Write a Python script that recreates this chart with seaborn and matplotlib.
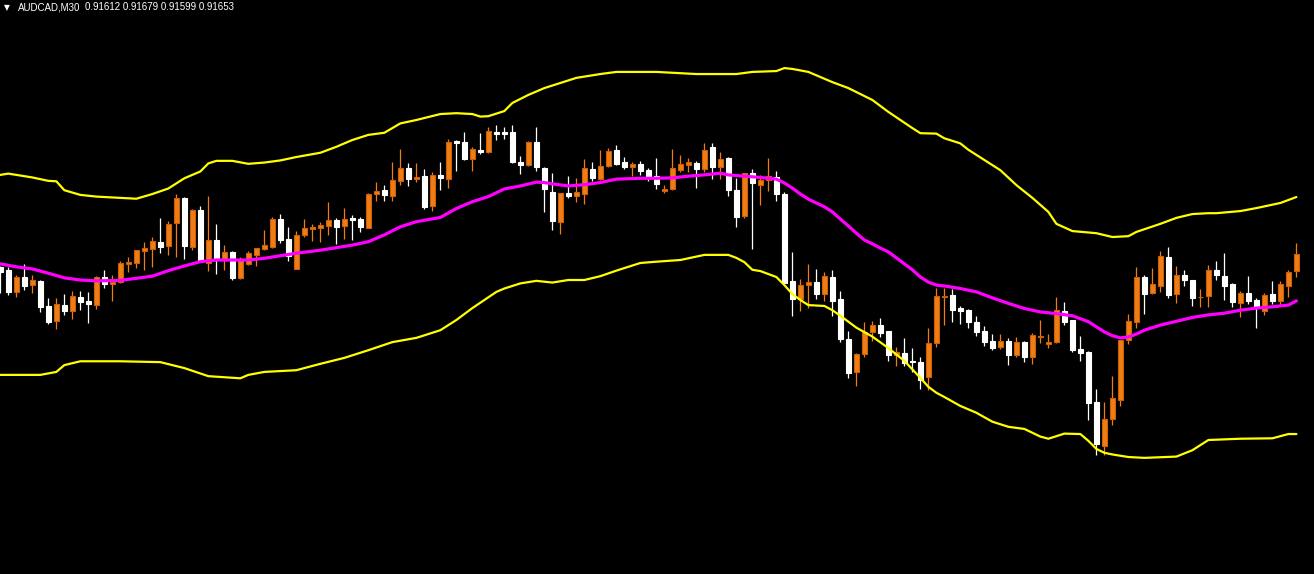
import numpy as np
import pandas as pd
import seaborn as sns
import matplotlib
matplotlib.use("Agg")
import matplotlib.pyplot as plt

symbol = "AUDCAD,M30"

# M30 bars, oldest first
opens = [
    0.91623, 0.91615, 0.91563, 0.91598, 0.91580, 0.91590, 0.91531, 0.91496, 0.91533, 0.91520,
    0.91552, 0.91543, 0.91534, 0.91598, 0.91582, 0.91588, 0.91630, 0.91633, 0.91661, 0.91664,
    0.91681, 0.91673, 0.91727, 0.91784, 0.91670, 0.91756, 0.91631, 0.91686, 0.91639, 0.91658,
    0.91597, 0.91630, 0.91651, 0.91665, 0.91670, 0.91735, 0.91688, 0.91619, 0.91698, 0.91713,
    0.91714, 0.91719, 0.91733, 0.91719, 0.91738, 0.91735, 0.91715, 0.91793, 0.91803, 0.91790,
    0.91825, 0.91855, 0.91829, 0.91836, 0.91766, 0.91839, 0.91829, 0.91919, 0.91916, 0.91876,
    0.91898, 0.91893, 0.91940, 0.91940, 0.91940, 0.91869, 0.91862, 0.91916, 0.91855, 0.91799,
    0.91728, 0.91796, 0.91790, 0.91795, 0.91853, 0.91830, 0.91860, 0.91898, 0.91869, 0.91857,
    0.91865, 0.91850, 0.91836, 0.91801, 0.91806, 0.91850, 0.91862, 0.91867, 0.91853, 0.91905,
    0.91858, 0.91879, 0.91803, 0.91743, 0.91843, 0.91816, 0.91826, 0.91833, 0.91794, 0.91590,
    0.91548, 0.91580, 0.91587, 0.91560, 0.91599, 0.91547, 0.91453, 0.91376, 0.91419, 0.91470,
    0.91486, 0.91472, 0.91416, 0.91421, 0.91402, 0.91399, 0.91365, 0.91443, 0.91552, 0.91557,
    0.91526, 0.91521, 0.91493, 0.91472, 0.91449, 0.91435, 0.91449, 0.91416, 0.91446, 0.91411,
    0.91458, 0.91442, 0.91446, 0.91519, 0.91498, 0.91430, 0.91423, 0.91305, 0.91202, 0.91266,
    0.91310, 0.91450, 0.91494, 0.91599, 0.91561, 0.91579, 0.91646, 0.91560, 0.91604, 0.91592,
    0.91551, 0.91555, 0.91616, 0.91601, 0.91583, 0.91538, 0.91561, 0.91545, 0.91519, 0.91559,
    0.91543, 0.91579, 0.91612,
]
highs = [
    0.91624, 0.91623, 0.91604, 0.91630, 0.91604, 0.91592, 0.91549, 0.91549, 0.91559, 0.91567,
    0.91566, 0.91563, 0.91602, 0.91616, 0.91604, 0.91637, 0.91645, 0.91663, 0.91681, 0.91692,
    0.91738, 0.91731, 0.91793, 0.91787, 0.91759, 0.91766, 0.91789, 0.91724, 0.91674, 0.91659,
    0.91646, 0.91660, 0.91668, 0.91710, 0.91740, 0.91747, 0.91717, 0.91707, 0.91735, 0.91724,
    0.91728, 0.91775, 0.91738, 0.91761, 0.91745, 0.91740, 0.91796, 0.91822, 0.91815, 0.91870,
    0.91900, 0.91867, 0.91867, 0.91853, 0.91846, 0.91870, 0.91923, 0.91921, 0.91940, 0.91905,
    0.91937, 0.91952, 0.91956, 0.91952, 0.91956, 0.91883, 0.91919, 0.91952, 0.91858, 0.91843,
    0.91797, 0.91836, 0.91832, 0.91876, 0.91869, 0.91898, 0.91903, 0.91909, 0.91881, 0.91870,
    0.91872, 0.91855, 0.91879, 0.91815, 0.91900, 0.91886, 0.91879, 0.91872, 0.91914, 0.91914,
    0.91893, 0.91881, 0.91832, 0.91844, 0.91853, 0.91839, 0.91879, 0.91848, 0.91799, 0.91658,
    0.91594, 0.91630, 0.91618, 0.91611, 0.91616, 0.91566, 0.91472, 0.91421, 0.91493, 0.91496,
    0.91503, 0.91473, 0.91435, 0.91456, 0.91432, 0.91411, 0.91479, 0.91573, 0.91573, 0.91571,
    0.91531, 0.91524, 0.91507, 0.91484, 0.91465, 0.91465, 0.91456, 0.91458, 0.91449, 0.91467,
    0.91498, 0.91465, 0.91552, 0.91540, 0.91498, 0.91460, 0.91425, 0.91336, 0.91305, 0.91366,
    0.91452, 0.91512, 0.91623, 0.91604, 0.91620, 0.91660, 0.91670, 0.91625, 0.91616, 0.91593,
    0.91571, 0.91627, 0.91637, 0.91655, 0.91585, 0.91566, 0.91601, 0.91550, 0.91561, 0.91590,
    0.91590, 0.91616, 0.91679,
]
lows = [
    0.91561, 0.91557, 0.91553, 0.91568, 0.91562, 0.91517, 0.91488, 0.91478, 0.91510, 0.91500,
    0.91521, 0.91492, 0.91525, 0.91574, 0.91543, 0.91586, 0.91610, 0.91621, 0.91615, 0.91623,
    0.91656, 0.91651, 0.91647, 0.91641, 0.91662, 0.91637, 0.91613, 0.91606, 0.91615, 0.91592,
    0.91594, 0.91628, 0.91625, 0.91662, 0.91667, 0.91680, 0.91637, 0.91618, 0.91693, 0.91684,
    0.91681, 0.91698, 0.91677, 0.91688, 0.91686, 0.91705, 0.91714, 0.91778, 0.91778, 0.91778,
    0.91816, 0.91813, 0.91822, 0.91759, 0.91754, 0.91803, 0.91808, 0.91848, 0.91874, 0.91848,
    0.91888, 0.91891, 0.91921, 0.91923, 0.91868, 0.91842, 0.91860, 0.91848, 0.91752, 0.91709,
    0.91700, 0.91785, 0.91776, 0.91771, 0.91825, 0.91828, 0.91858, 0.91862, 0.91853, 0.91836,
    0.91839, 0.91825, 0.91806, 0.91796, 0.91803, 0.91846, 0.91846, 0.91808, 0.91846, 0.91829,
    0.91829, 0.91789, 0.91717, 0.91738, 0.91665, 0.91768, 0.91802, 0.91778, 0.91584, 0.91508,
    0.91520, 0.91527, 0.91547, 0.91543, 0.91508, 0.91447, 0.91362, 0.91344, 0.91412, 0.91449,
    0.91458, 0.91402, 0.91391, 0.91391, 0.91376, 0.91337, 0.91333, 0.91434, 0.91486, 0.91493,
    0.91489, 0.91479, 0.91460, 0.91437, 0.91427, 0.91430, 0.91392, 0.91411, 0.91399, 0.91395,
    0.91444, 0.91432, 0.91444, 0.91486, 0.91423, 0.91402, 0.91263, 0.91181, 0.91181, 0.91252,
    0.91297, 0.91442, 0.91480, 0.91513, 0.91560, 0.91564, 0.91550, 0.91539, 0.91578, 0.91531,
    0.91529, 0.91529, 0.91592, 0.91545, 0.91529, 0.91505, 0.91536, 0.91479, 0.91510, 0.91536,
    0.91533, 0.91553, 0.91599,
]
closes = [
    0.91611, 0.91564, 0.91598, 0.91579, 0.91592, 0.91529, 0.91494, 0.91536, 0.91520, 0.91554,
    0.91541, 0.91536, 0.91599, 0.91583, 0.91587, 0.91631, 0.91635, 0.91662, 0.91667, 0.91684,
    0.91670, 0.91723, 0.91784, 0.91672, 0.91756, 0.91639, 0.91686, 0.91639, 0.91658, 0.91597,
    0.91639, 0.91655, 0.91667, 0.91674, 0.91735, 0.91686, 0.91648, 0.91698, 0.91714, 0.91717,
    0.91721, 0.91733, 0.91717, 0.91735, 0.91733, 0.91717, 0.91794, 0.91801, 0.91792, 0.91827,
    0.91855, 0.91829, 0.91834, 0.91764, 0.91839, 0.91832, 0.91916, 0.91914, 0.91876, 0.91900,
    0.91892, 0.91942, 0.91935, 0.91935, 0.91869, 0.91862, 0.91916, 0.91858, 0.91806, 0.91731,
    0.91796, 0.91790, 0.91799, 0.91855, 0.91832, 0.91860, 0.91895, 0.91865, 0.91858, 0.91865,
    0.91848, 0.91835, 0.91818, 0.91806, 0.91855, 0.91865, 0.91869, 0.91853, 0.91898, 0.91858,
    0.91876, 0.91803, 0.91740, 0.91843, 0.91821, 0.91827, 0.91836, 0.91794, 0.91586, 0.91548,
    0.91580, 0.91587, 0.91559, 0.91601, 0.91543, 0.91454, 0.91374, 0.91418, 0.91470, 0.91486,
    0.91468, 0.91416, 0.91423, 0.91398, 0.91399, 0.91357, 0.91443, 0.91554, 0.91554, 0.91521,
    0.91519, 0.91493, 0.91470, 0.91446, 0.91432, 0.91449, 0.91416, 0.91446, 0.91411, 0.91463,
    0.91460, 0.91446, 0.91521, 0.91493, 0.91427, 0.91420, 0.91303, 0.91207, 0.91265, 0.91315,
    0.91451, 0.91496, 0.91599, 0.91559, 0.91583, 0.91648, 0.91557, 0.91604, 0.91592, 0.91550,
    0.91553, 0.91616, 0.91604, 0.91578, 0.91540, 0.91561, 0.91543, 0.91529, 0.91557, 0.91543,
    0.91583, 0.91611, 0.91653,
]

# Bollinger bands, sampled at bar numbers
mid_bar = [0, 2, 4, 6, 8, 10, 12, 15, 17, 19, 21, 23, 25, 27, 31, 33, 35, 37, 40, 44,
           46, 48, 50, 52, 55, 57, 59, 61, 63, 65, 67, 68, 69, 71, 73, 75, 77, 80, 82, 84,
           86, 88, 90, 91, 93, 95, 97, 98, 99, 100, 101, 102, 103, 104, 105, 106, 107, 108, 109, 110,
           111, 112, 113, 114, 115, 116, 117, 118, 120, 122, 124, 126, 128, 130, 132, 134, 136, 137, 138, 139,
           140, 141, 142, 143, 145, 147, 149, 151, 153, 155, 157, 159, 161, 162]
mid_band = [0.91630, 0.91623, 0.91618, 0.91608, 0.91597, 0.91592, 0.91590, 0.91591, 0.91596, 0.91601,
            0.91614, 0.91625, 0.91635, 0.91639, 0.91639, 0.91643, 0.91649, 0.91655, 0.91662, 0.91674,
            0.91682, 0.91698, 0.91717, 0.91729, 0.91739, 0.91760, 0.91776, 0.91788, 0.91806, 0.91813,
            0.91822, 0.91821, 0.91818, 0.91813, 0.91816, 0.91821, 0.91829, 0.91831, 0.91831, 0.91832,
            0.91836, 0.91839, 0.91843, 0.91839, 0.91836, 0.91833, 0.91829, 0.91820, 0.91808, 0.91794,
            0.91782, 0.91773, 0.91764, 0.91752, 0.91735, 0.91719, 0.91702, 0.91686, 0.91677, 0.91667,
            0.91658, 0.91644, 0.91630, 0.91616, 0.91599, 0.91587, 0.91580, 0.91578, 0.91572, 0.91564,
            0.91550, 0.91537, 0.91525, 0.91517, 0.91513, 0.91508, 0.91494, 0.91482, 0.91470, 0.91461,
            0.91456, 0.91458, 0.91465, 0.91474, 0.91486, 0.91495, 0.91504, 0.91510, 0.91514, 0.91521,
            0.91526, 0.91529, 0.91533, 0.91543]

up_bar = [0, 1, 2, 4, 6, 7, 8, 10, 12, 15, 17, 19, 21, 23, 25, 26, 27, 29, 31, 33,
          35, 37, 40, 42, 44, 46, 48, 50, 52, 55, 57, 59, 60, 61, 63, 64, 66, 68, 70, 72,
          75, 77, 82, 87, 92, 94, 97, 98, 99, 101, 104, 106, 109, 111, 114, 115, 117, 118, 120, 121,
          122, 125, 127, 129, 131, 132, 134, 137, 139, 141, 142, 145, 147, 149, 151, 152, 155, 157, 160, 162]
up_band = [0.91839, 0.91842, 0.91839, 0.91833, 0.91825, 0.91824, 0.91803, 0.91792, 0.91788, 0.91785,
           0.91783, 0.91794, 0.91807, 0.91831, 0.91847, 0.91866, 0.91872, 0.91872, 0.91865, 0.91868,
           0.91873, 0.91881, 0.91891, 0.91905, 0.91921, 0.91933, 0.91938, 0.91960, 0.91968, 0.91982,
           0.91984, 0.91982, 0.91976, 0.91977, 0.91989, 0.92008, 0.92027, 0.92043, 0.92055, 0.92067,
           0.92076, 0.92081, 0.92081, 0.92076, 0.92076, 0.92081, 0.92083, 0.92090, 0.92088, 0.92081,
           0.92057, 0.92043, 0.92015, 0.91987, 0.91949, 0.91937, 0.91936, 0.91925, 0.91913, 0.91898,
           0.91886, 0.91850, 0.91815, 0.91785, 0.91752, 0.91724, 0.91707, 0.91702, 0.91693, 0.91695,
           0.91705, 0.91724, 0.91738, 0.91747, 0.91749, 0.91749, 0.91754, 0.91761, 0.91773, 0.91787]

lo_bar = [0, 5, 7, 8, 10, 15, 20, 23, 26, 30, 31, 33, 37, 40, 43, 46, 49, 52, 55, 57,
          59, 62, 63, 65, 67, 69, 71, 73, 75, 77, 80, 82, 85, 88, 91, 92, 93, 94, 95, 96,
          97, 98, 99, 100, 101, 103, 104, 105, 107, 109, 111, 113, 115, 116, 117, 118, 120, 122, 124, 126,
          128, 130, 131, 133, 135, 136, 137, 138, 139, 141, 143, 147, 149, 151, 155, 159, 161, 162]
lo_band = [0.91369, 0.91369, 0.91376, 0.91392, 0.91401, 0.91401, 0.91399, 0.91385, 0.91366, 0.91361,
           0.91369, 0.91376, 0.91380, 0.91395, 0.91409, 0.91427, 0.91446, 0.91456, 0.91474, 0.91498,
           0.91526, 0.91564, 0.91572, 0.91584, 0.91590, 0.91586, 0.91592, 0.91592, 0.91601, 0.91614,
           0.91632, 0.91635, 0.91639, 0.91651, 0.91651, 0.91644, 0.91634, 0.91616, 0.91613, 0.91606,
           0.91599, 0.91580, 0.91559, 0.91545, 0.91533, 0.91531, 0.91521, 0.91508, 0.91480, 0.91459,
           0.91432, 0.91402, 0.91362, 0.91341, 0.91327, 0.91317, 0.91296, 0.91280, 0.91259, 0.91247,
           0.91242, 0.91224, 0.91219, 0.91231, 0.91230, 0.91214, 0.91195, 0.91186, 0.91182, 0.91176,
           0.91174, 0.91177, 0.91192, 0.91216, 0.91219, 0.91220, 0.91230, 0.91230]

BULL = "#F07C14"
BULL_EDGE = "#C9600A"
BEAR = "#FFFFFF"

sns.set_style("dark", {"axes.facecolor": "black", "figure.facecolor": "black"})

bars = pd.DataFrame({"open": opens, "high": highs, "low": lows, "close": closes})
bars["n"] = np.arange(len(bars))
up = bars["close"] >= bars["open"]

fig = plt.figure(figsize=(13.14, 5.74), dpi=100)
ax = fig.add_axes([0, 0, 1, 1])
ax.set_facecolor("black")

# wicks then bodies
wick_col = np.where(up, BULL, BEAR)
ax.vlines(bars["n"], bars["low"], bars["high"], colors=wick_col, lw=0.9, zorder=2)

body_lo = bars[["open", "close"]].min(axis=1)
body_h = (bars["close"] - bars["open"]).abs().clip(lower=0.000012)
ax.bar(bars["n"], body_h, bottom=body_lo, width=0.56,
       color=np.where(up, BULL, BEAR), edgecolor=np.where(up, BULL_EDGE, BEAR),
       linewidth=0.8, zorder=3)

# bands on top of the candles
sns.lineplot(x=up_bar, y=up_band, color="#FFFF00", lw=1.6, ax=ax, zorder=4)
sns.lineplot(x=lo_bar, y=lo_band, color="#FFFF00", lw=1.6, ax=ax, zorder=4)
sns.lineplot(x=mid_bar, y=mid_band, color="#FF00FF", lw=2.3, ax=ax, zorder=5)

ax.set_xlim(-0.04, 164.2)
ax.set_ylim(0.909011, 0.922500)
ax.set_xticks([])
ax.set_yticks([])
ax.set_xlabel("")
ax.set_ylabel("")
ax.grid(False)
for s in ax.spines.values():
    s.set_visible(False)

# header line like the terminal shows
W, H = 1314, 574
fig.text(4 / W, 1 - 7.5 / H, "\u25bc", color="white", fontsize=5.5,
         family="DejaVu Sans", va="center", ha="left")
fig.text(18 / W, 1 - 7.5 / H, symbol, color="white", fontsize=7,
         family="Liberation Sans", va="center", ha="left")
last = bars.iloc[-1]
info = f"{last['open']:.5f} {last['high']:.5f} {last['low']:.5f} {last['close']:.5f}"
fig.text(85 / W, 1 - 7.5 / H, info, color="white", fontsize=7,
         family="Liberation Sans", va="center", ha="left")

fig.savefig("out.png", dpi=100, facecolor="black")
